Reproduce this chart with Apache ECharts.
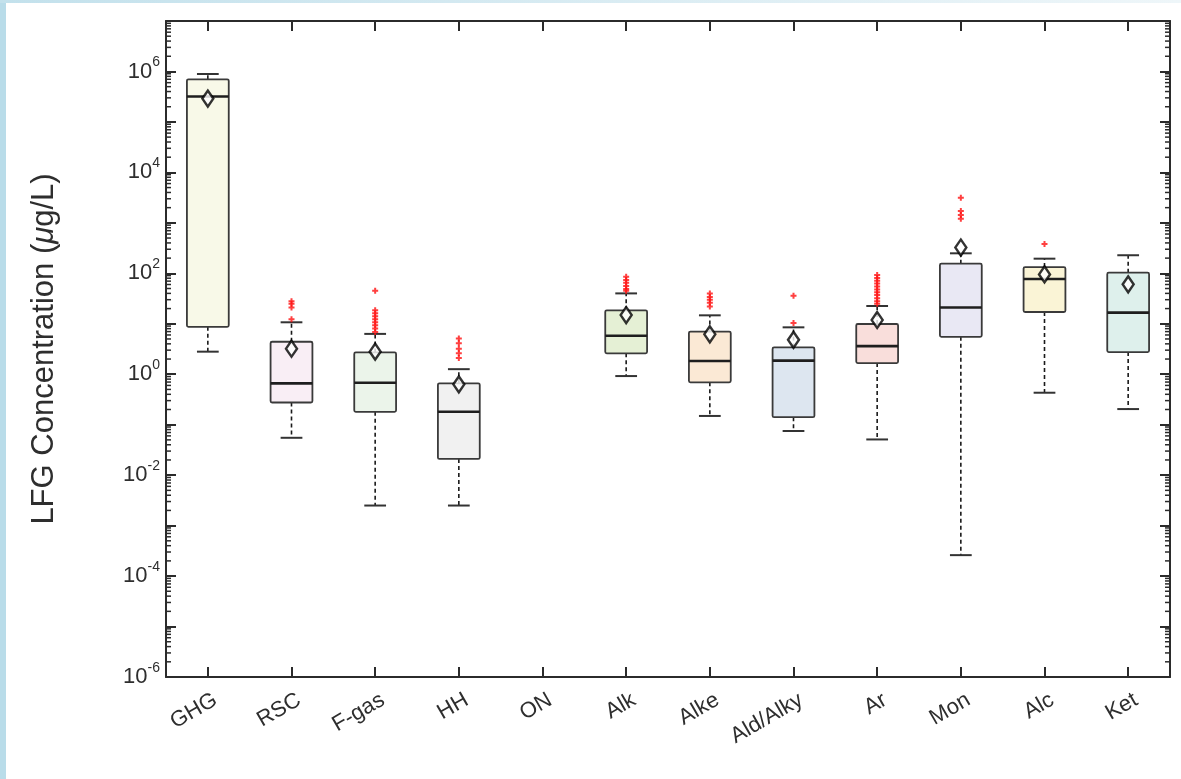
<!DOCTYPE html>
<html><head><meta charset="utf-8">
<script src="https://cdn.jsdelivr.net/npm/echarts@6/dist/echarts.min.js"></script>
<style>html,body{margin:0;padding:0;background:#fff}#c{width:1181px;height:779px}</style>
</head><body><div id="c"></div>
<script>
// ---- data (concentrations in µg/L) ----
const categories = ['GHG','RSC','F-gas','HH','ON','Alk','Alke','Ald/Alky','Ar','Mon','Alc','Ket'];
const whiskerLow  = [2.8,    0.055, 0.0025, 0.0025, null, 0.92, 0.149, 0.075, 0.051, 0.00026, 0.43, 0.204];
const q1          = [8.7,    0.275, 0.18,   0.021,  null, 2.6,  0.69,  0.141, 1.66,  5.5,     17.1, 2.75];
const median      = [3.2e5,  0.66,  0.68,   0.18,   null, 5.8,  1.83,  1.86,  3.6,   21,      77,   16.6];
const q3          = [7.0e5,  4.4,   2.7,    0.66,   null, 18.5, 7.0,   3.4,   9.9,   155,     133,  103];
const whiskerHigh = [8.9e5,  10.7,  6.3,    1.26,   null, 40,   14.7,  8.5,   22.5,  249,     195,  228];
const means       = [2.9e5,  3.2,   2.8,    0.63,   null, 14.9, 6.2,   4.8,   11.9,  324,     95,   60.5];
const outliers = [
  [],
  [12.3, 21, 25, 28],
  [45, 18.6, 16.2, 14.1, 12.3, 10.7, 9.3, 8.1, 6.9],
  [5.1, 4.1, 3.2, 2.6, 2.1],
  [],
  [85, 74, 65, 56, 49, 45],
  [40, 34, 30, 26, 22],
  [36, 10.4],
  [93, 81, 71, 63, 55, 48, 42, 37, 32, 28, 25],
  [3160, 1720, 1430, 1200],
  [380],
  []
];
const yTickExponents = [-6, -4, -2, 0, 2, 4, 6];
const yMinExp = -6, yMaxExp = 7;

// ---- styles ----
const boxColors = ['#f8f9e8','#f9eef5','#ebf4ea','#f1f1f1','#ffffff','#e5f0d5','#fbe9d5','#dde6f0','#f9dedb','#e9e8f4','#faf4d6','#def0ec'];
const FONT = '"Liberation Sans", Arial, sans-serif';
const AX = '#2b2b2b';
const TXT = '#2e2e2e';

const L = v => Math.log10(v);
const boxData = [];
const meanData = [];
const outData = [];
categories.forEach((c, i) => {
  if (median[i] == null) return;
  boxData.push([i, L(whiskerLow[i]), L(q1[i]), L(median[i]), L(q3[i]), L(whiskerHigh[i])]);
  meanData.push([i, L(means[i])]);
  outliers[i].forEach(v => outData.push([i, L(v)]));
});
const minorData = [];
for (let n = yMinExp; n < yMaxExp; n++) for (let k = 2; k <= 9; k++) minorData.push([0, L(k * Math.pow(10, n))]);

function renderBox(params, api) {
  const x = api.value(0);
  const pLow = api.coord([x, api.value(1)]);
  const pQ1 = api.coord([x, api.value(2)]);
  const pMed = api.coord([x, api.value(3)]);
  const pQ3 = api.coord([x, api.value(4)]);
  const pHigh = api.coord([x, api.value(5)]);
  const band = api.size([1, 0])[0];
  const bw = band * 0.5, cw = band * 0.26;
  const cx = pMed[0];
  const dash = { stroke: '#1a1a1a', lineWidth: 1.6, lineDash: [4, 3] };
  const cap = { stroke: '#333', lineWidth: 2 };
  return { type: 'group', children: [
    { type: 'line', shape: { x1: cx, y1: pQ3[1], x2: cx, y2: pHigh[1] }, style: dash },
    { type: 'line', shape: { x1: cx, y1: pQ1[1], x2: cx, y2: pLow[1] }, style: dash },
    { type: 'line', shape: { x1: cx - cw / 2, y1: pHigh[1], x2: cx + cw / 2, y2: pHigh[1] }, style: cap },
    { type: 'line', shape: { x1: cx - cw / 2, y1: pLow[1], x2: cx + cw / 2, y2: pLow[1] }, style: cap },
    { type: 'rect', shape: { x: cx - bw / 2, y: pQ3[1], width: bw, height: pQ1[1] - pQ3[1], r: 1.5 },
      style: { fill: boxColors[x], stroke: '#3a3a3a', lineWidth: 1.8 } },
    { type: 'line', shape: { x1: cx - bw / 2, y1: pMed[1], x2: cx + bw / 2, y2: pMed[1] },
      style: { stroke: '#1e1e1e', lineWidth: 2.6 } }
  ]};
}

function renderMinor(params, api) {
  const cs = params.coordSys;
  const y = api.coord([0, api.value(1)])[1];
  const st = { stroke: AX, lineWidth: 1.5 };
  return { type: 'group', children: [
    { type: 'line', shape: { x1: cs.x, y1: y, x2: cs.x + 5, y2: y }, style: st },
    { type: 'line', shape: { x1: cs.x + cs.width, y1: y, x2: cs.x + cs.width - 5, y2: y }, style: st }
  ]};
}

const chart = echarts.init(document.getElementById('c'), null, { renderer: 'canvas' });
const yAxisBase = {
  type: 'value', min: yMinExp, max: yMaxExp, interval: 1,
  splitLine: { show: false },
  axisLine: { show: true, onZero: false, lineStyle: { color: AX, width: 2 } },
  axisTick: { show: true, inside: true, length: 10, lineStyle: { color: AX, width: 2 } }
};
const xAxisBase = {
  type: 'category', data: categories, boundaryGap: true,
  axisLine: { show: true, onZero: false, lineStyle: { color: AX, width: 2 } },
  axisTick: { show: true, inside: true, length: 10, alignWithLabel: true, lineStyle: { color: AX, width: 2 } },
  splitLine: { show: false }
};
chart.setOption({
  animation: false,
  backgroundColor: '#ffffff',
  graphic: [
    { type: 'rect', left: 0, top: 0, shape: { width: 6, height: 779 }, style: { fill: '#b9dce9' }, z: -10 },
    { type: 'rect', left: 0, top: 0, shape: { width: 1181, height: 3 }, style: { fill: new echarts.graphic.LinearGradient(0,0,1,0,[{offset:0,color:'#c3e1ec'},{offset:1,color:'#eef6f9'}]) }, z: -10 }
  ],
  grid: { left: 166, right: 11, top: 21, bottom: 102, containLabel: false },
  xAxis: [
    Object.assign({}, xAxisBase, { position: 'bottom',
      axisLabel: { rotate: 30, margin: 26, padding: [0, -9, 0, 0], fontSize: 22, color: TXT, fontFamily: FONT, interval: 0 } }),
    Object.assign({}, xAxisBase, { position: 'top', axisLabel: { show: false } })
  ],
  yAxis: [
    Object.assign({}, yAxisBase, {
      position: 'left',
      name: 'LFG Concentration ({i|μ}g/L)',
      nameLocation: 'middle', nameRotate: 90, nameGap: 106,
      nameTextStyle: { fontSize: 31, color: TXT, fontFamily: FONT,
        rich: { i: { fontSize: 31, fontStyle: 'italic', color: TXT, fontFamily: FONT } } },
      axisLabel: { margin: 6, color: TXT, fontFamily: FONT,
        formatter: v => yTickExponents.includes(v) ? '{b|10}{s|' + v + '}' : '',
        rich: {
          b: { fontSize: 22, lineHeight: 32, color: TXT, fontFamily: FONT },
          s: { fontSize: 14, lineHeight: 16, verticalAlign: 'top', color: TXT, fontFamily: FONT }
        } }
    }),
    Object.assign({}, yAxisBase, { position: 'right', axisLabel: { show: false } })
  ],
  series: [
    { type: 'custom', name: 'minor', renderItem: renderMinor, data: minorData, silent: true, clip: false, z: 1 },
    { type: 'custom', name: 'box', renderItem: renderBox, data: boxData, encode: { x: 0, y: [1,2,3,4,5] }, z: 2 },
    { type: 'scatter', name: 'outliers', data: outData, symbol: 'path://M2,0H4V2H6V4H4V6H2V4H0V2H2Z', symbolSize: 6,
      itemStyle: { color: '#ff1010' }, z: 3 },
    { type: 'scatter', name: 'mean', data: meanData, symbol: 'diamond', symbolSize: [11, 16],
      itemStyle: { color: '#ffffff', borderColor: '#000', borderWidth: 2.5 }, z: 4 }
  ]
});
</script></body></html>
